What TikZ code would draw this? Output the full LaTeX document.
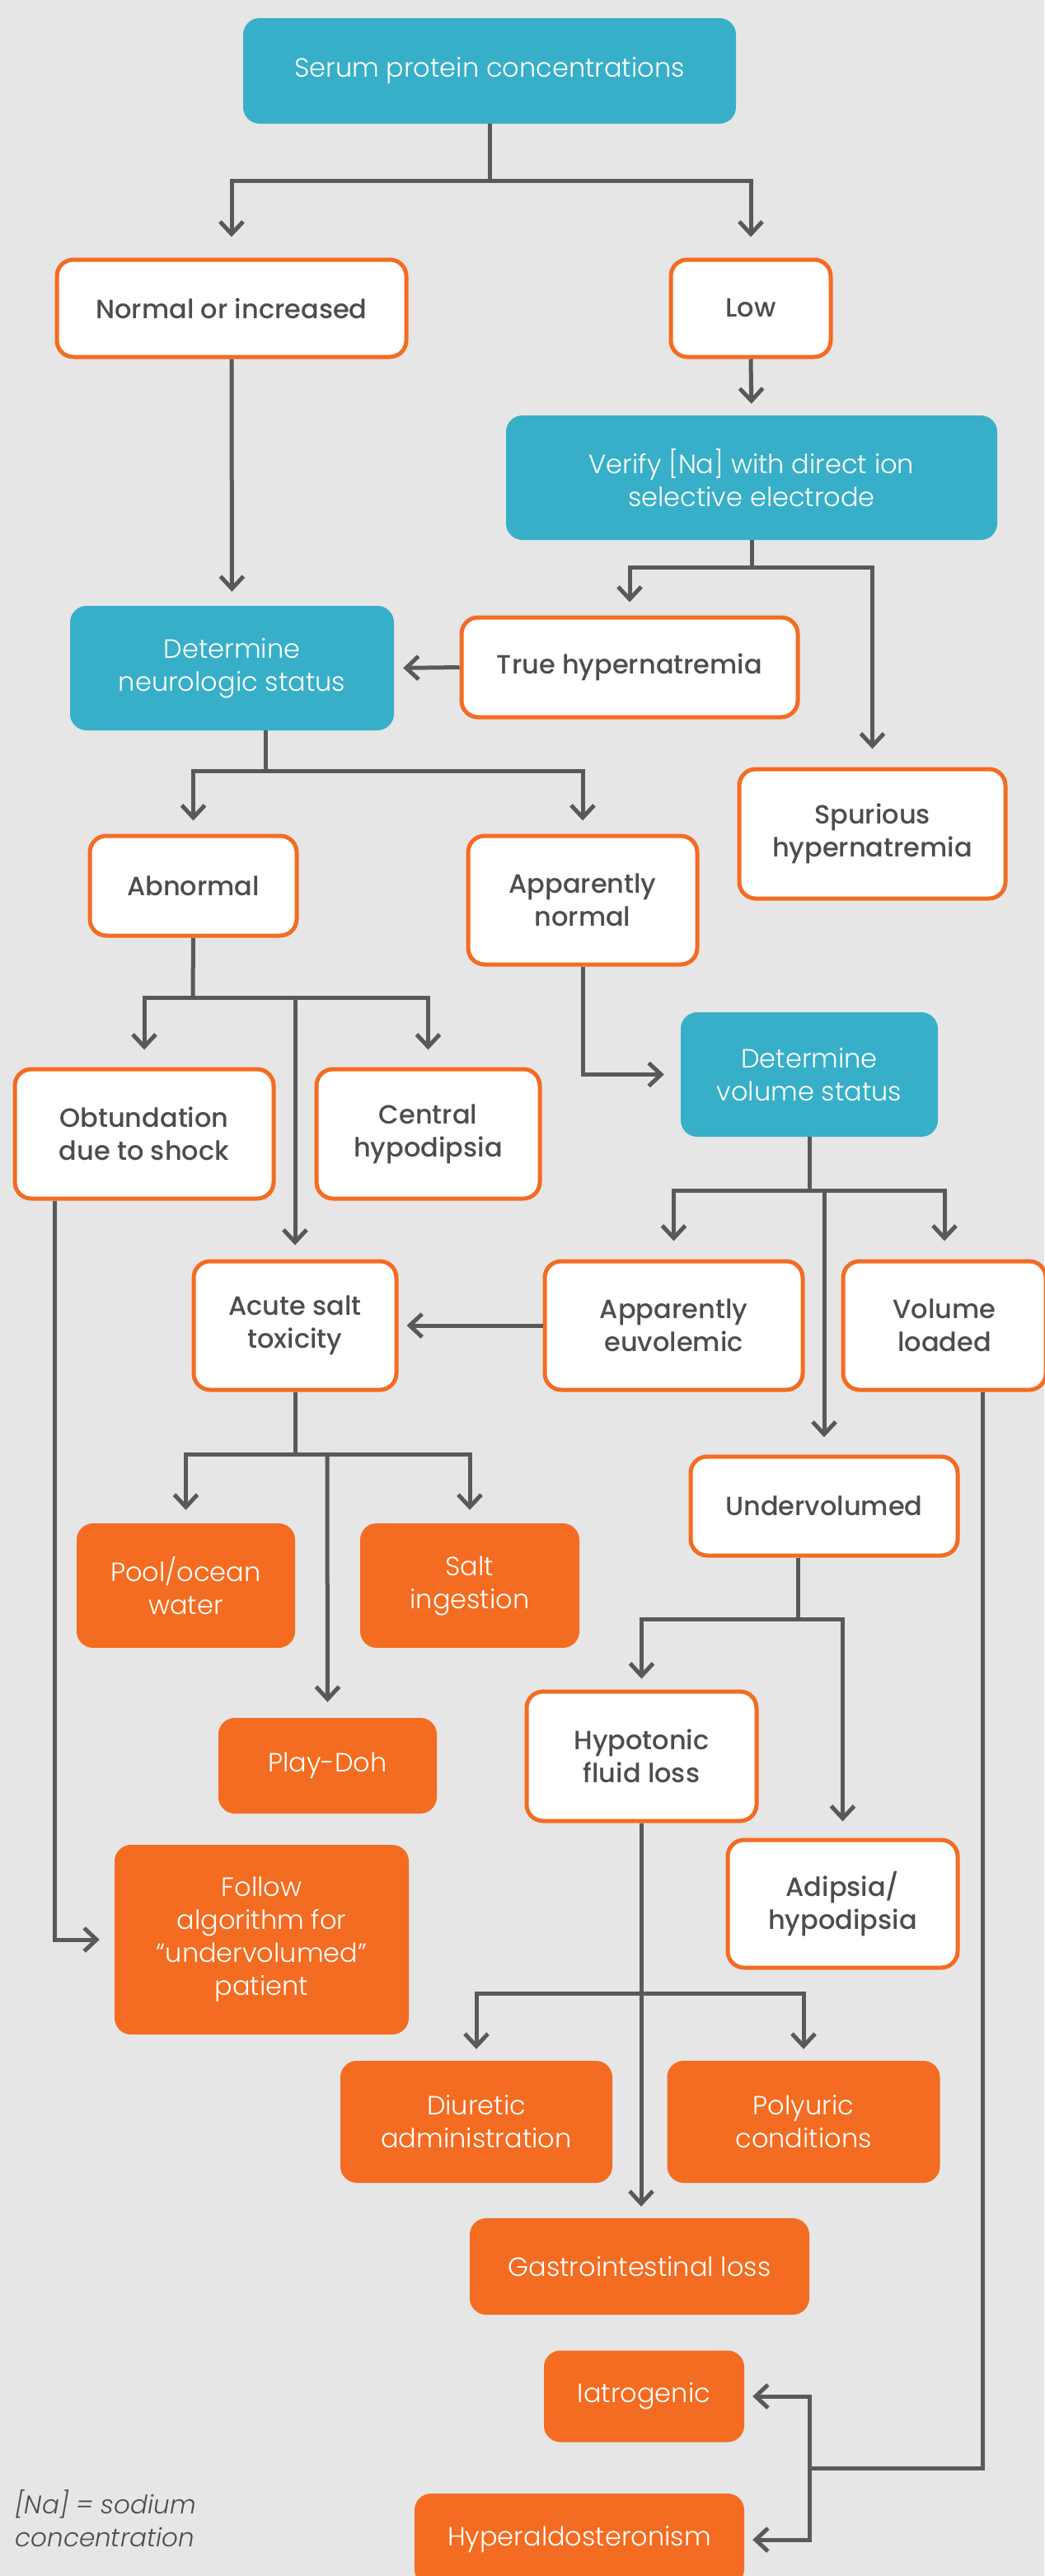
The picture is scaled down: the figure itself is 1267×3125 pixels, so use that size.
\documentclass[tikz,border=0pt]{standalone}
\usepackage{fontspec}
\setmainfont{Poppins}
\newfontfamily\lightfont{Poppins Light}
\newfontfamily\medfont{Poppins Medium}
\usetikzlibrary{arrows.meta}

\definecolor{bggray}{HTML}{E6E6E6}
\definecolor{tealc}{HTML}{38AFC9}
\definecolor{orng}{HTML}{F36C21}
\definecolor{linegray}{HTML}{58595B}
\definecolor{txtgray}{HTML}{4D4D4F}

\tikzset{
  base/.style={rectangle, rounded corners=20pt, align=center, inner sep=0pt},
  tealbox/.style={base, fill=tealc, text=white, font=\lightfont\fontsize{32}{40}\selectfont},
  outbox/.style={base, fill=white, draw=orng, line width=5pt, text=txtgray, font=\medfont\fontsize{32}{40}\selectfont},
  fillbox/.style={base, fill=orng, text=white, font=\lightfont\fontsize{32}{40}\selectfont},
  conn/.style={draw=linegray, line width=5pt},
  arr/.style={conn, -{Straight Barb[length=15pt,width=28pt]}, shorten >=#1},
  arr/.default=16pt,
}

\begin{document}
\begin{tikzpicture}[x=1pt,y=-1pt]
\fill[bggray] (0,0) rectangle (1267,3125);
\path[use as bounding box] (0,0) rectangle (1267,3125);

% boxes
\node[tealbox, minimum width=598pt, minimum height=128pt] (serum) at (594,86) {\raisebox{-4pt}{Serum protein concentrations}};
\node[outbox, minimum width=424pt, minimum height=118pt] (normal) at (281,374) {Normal or increased};
\node[outbox, minimum width=194pt, minimum height=118pt] (low) at (911,374) {Low};
\node[tealbox, minimum width=596pt, minimum height=151pt] (verify) at (912,579.5) {Verify [Na] with direct ion\\selective electrode};
\node[tealbox, minimum width=393pt, minimum height=151pt] (neuro) at (281.5,810.5) {Determine\\neurologic status};
\node[outbox, minimum width=408pt, minimum height=121pt] (truehyp) at (764,809.5) {True hypernatremia};
\node[outbox, minimum width=323pt, minimum height=157pt] (spurious) at (1058.5,1011.5) {Spurious\\hypernatremia};
\node[outbox, minimum width=251pt, minimum height=121pt] (abnormal) at (234.5,1074.5) {Abnormal};
\node[outbox, minimum width=278pt, minimum height=156pt] (appnormal) at (707,1092) {Apparently\\normal};
\node[tealbox, minimum width=312pt, minimum height=151pt] (volume) at (982,1303.5) {Determine\\volume status};
\node[outbox, minimum width=314pt, minimum height=157pt] (obtund) at (175,1375.5) {Obtundation\\due to shock};
\node[outbox, minimum width=271pt, minimum height=157pt] (central) at (519.5,1375.5) {Central\\hypodipsia};
\node[outbox, minimum width=246pt, minimum height=156pt] (acute) at (358,1608) {Acute salt\\toxicity};
\node[outbox, minimum width=313pt, minimum height=156pt] (euvol) at (817.5,1608) {Apparently\\euvolemic};
\node[outbox, minimum width=246pt, minimum height=156pt] (volloaded) at (1146,1608) {Volume\\loaded};
\node[outbox, minimum width=324pt, minimum height=120pt] (undervol) at (1000,1827) {Undervolumed};
\node[fillbox, minimum width=265pt, minimum height=151pt] (pool) at (225.5,1923.5) {Pool/ocean\\water};
\node[fillbox, minimum width=266pt, minimum height=151pt] (saltingest) at (570,1923.5) {Salt\\ingestion};
\node[fillbox, minimum width=265pt, minimum height=116pt] (playdoh) at (397.5,2142) {Play-Doh};
\node[outbox, minimum width=279pt, minimum height=157pt] (hypotonic) at (778.5,2130.5) {Hypotonic\\fluid loss};
\node[outbox, minimum width=279pt, minimum height=155pt] (adipsia) at (1022.5,2309.5) {Adipsia/\\hypodipsia};
\node[fillbox, minimum width=357pt, minimum height=230pt] (follow) at (317.5,2353) {Follow\\algorithm for\\“undervolumed”\\patient};
\node[fillbox, minimum width=330pt, minimum height=148pt] (diuretic) at (578,2574) {Diuretic\\administration};
\node[fillbox, minimum width=331pt, minimum height=148pt] (polyuric) at (975,2574) {Polyuric\\conditions};
\node[fillbox, minimum width=412pt, minimum height=117pt] (gi) at (776,2749.5) {Gastrointestinal loss};
\node[fillbox, minimum width=243pt, minimum height=111pt] (iatro) at (781.5,2907) {Iatrogenic};
\node[fillbox, minimum width=400pt, minimum height=112pt] (hyperaldo) at (703,3081) {Hyperaldosteronism};

\node[anchor=north west, align=left, text=txtgray, font=\lightfont\itshape\fontsize{31}{40}\selectfont] (note) at (15,3017) {[Na] = sodium\\concentration};

% junction points
\coordinate (j1) at (594,219);
\coordinate (j2) at (912,688);
\coordinate (j3) at (322,935);
\coordinate (j4) at (234,1210);
\coordinate (j5) at (982,1444);
\coordinate (j6) at (358,1764);
\coordinate (j7) at (968,1964);
\coordinate (j8) at (778,2418);
\coordinate (j9) at (982,2994);
\coordinate (obx) at (66,0);
\coordinate (vlx) at (1192,0);
\coordinate (pdx) at (397,0);
\coordinate (uvx) at (1000,0);

% connectors
\draw[conn] (serum.south) -- (j1);
\draw[arr=25pt] (j1) -| (normal.north);
\draw[arr=25pt] (j1) -| (low.north);
\draw[arr=14pt] (low.south) -- (verify.north);
\draw[conn] (verify.south) -- (j2);
\draw[arr=16pt] (j2) -| (truehyp.north);
\draw[arr=22pt] (j2) -| (spurious.north);
\draw[arr=17pt] (normal.south) -- (neuro.north);
\draw[arr=11pt] (truehyp.west) -- (neuro.east);
\draw[conn] (j3 |- neuro.south) -- (j3);
\draw[arr=16pt] (j3) -| (abnormal.north);
\draw[arr=16pt] (j3) -| (appnormal.north);
\draw[conn] (abnormal.south) -- (j4);
\draw[arr=21pt] (j4) -| (obtund.north);
\draw[arr=21pt] (j4) -| (central.north);
\draw[arr=17pt] (acute.north |- j4) -- (acute.north);
\draw[arr=20pt] (appnormal.south) |- (volume.west);
\draw[conn] (volume.south) -- (j5);
\draw[arr=22pt] (j5) -| (euvol.north);
\draw[arr=22pt] (j5) -| (volloaded.north);
\draw[arr=21pt] (uvx |- j5) -- (undervol.north);
\draw[arr=10pt] (euvol.west) -- (acute.east);
\draw[arr=18pt] (obtund.south -| obx) |- (follow.west);
\draw[conn] (acute.south) -- (j6);
\draw[arr=16pt] (j6) -| (pool.north);
\draw[arr=16pt] (j6) -| (saltingest.north);
\draw[arr=19pt] (pdx |- j6) -- (playdoh.north);
\draw[conn] (undervol.south -| j7) -- (j7);
\draw[arr=13pt] (j7) -| (hypotonic.north);
\draw[arr=20pt] (j7) -| (adipsia.north);
\draw[conn] (hypotonic.south -| j8) -- (j8);
\draw[arr=14pt] (j8) -| (diuretic.north);
\draw[arr=14pt] (j8) -| (polyuric.north);
\draw[arr=14pt] (j8) -- (gi.north -| j8);
\draw[conn] (volloaded.south -| vlx) |- (j9);
\draw[arr=10pt] (j9) |- (iatro.east);
\draw[arr=10pt] (j9) |- (hyperaldo.east);
\end{tikzpicture}
\end{document}
